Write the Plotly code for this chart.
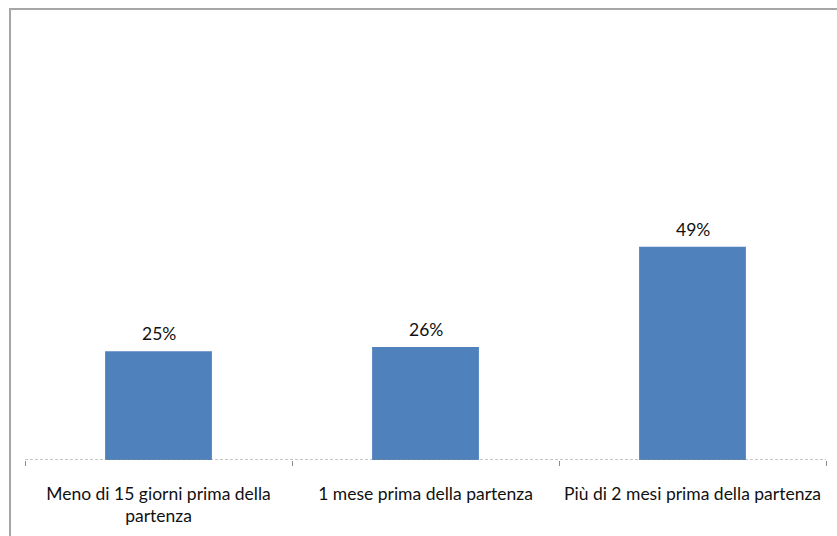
import plotly.graph_objects as go

# Quando prenotare: quota di risposte per anticipo di prenotazione
categorie = [
    "Meno di 15 giorni prima della<br>partenza",
    "1 mese prima della partenza",
    "Più di 2 mesi prima della partenza",
]
percentuali = [25, 26, 49]

FONT = "Lato, 'Open Sans', sans-serif"
BAR_COLOR = "#4F81BD"
TEXT_COLOR = "#111111"

fig = go.Figure(
    go.Bar(
        x=categorie,
        y=percentuali,
        marker=dict(color=BAR_COLOR, line=dict(width=0)),
        width=0.4,
        hoverinfo="skip",
    )
)

# Etichette dei valori sopra le barre
for cat, val in zip(categorie, percentuali):
    fig.add_annotation(
        x=cat, y=val, text=f"{val}%", showarrow=False,
        yanchor="bottom", yshift=5,
        font=dict(family=FONT, size=17.5, color=TEXT_COLOR),
    )

shapes = [
    # linea dell'asse orizzontale tratteggiata
    dict(type="line", xref="paper", yref="y", x0=0, x1=1, y0=0, y1=0,
         line=dict(color="#8C8C8C", width=1, dash="3px,2px")),
    # cornice grigia dell'area del grafico
    dict(type="rect", xref="paper", yref="paper",
         x0=-0.0187, x1=1.2, y0=1.0368, y1=-0.4,
         line=dict(color="#A6A6A6", width=2), fillcolor="rgba(0,0,0,0)"),
]

fig.update_layout(
    width=837, height=536,
    margin=dict(l=25, r=11, t=25, b=76),
    paper_bgcolor="white", plot_bgcolor="white",
    showlegend=False,
    shapes=shapes,
    font=dict(family=FONT, size=17.5, color=TEXT_COLOR),
    xaxis=dict(
        type="category",
        showline=False, showgrid=False, zeroline=False,
        ticks="outside", tickson="boundaries", ticklen=5,
        tickcolor="#8C8C8C", tickwidth=1,
        ticklabelstandoff=21,
        tickfont=dict(family=FONT, size=17.5, color=TEXT_COLOR),
        fixedrange=True,
    ),
    yaxis=dict(
        range=[0, 100], visible=False, showgrid=False, zeroline=False,
        fixedrange=True,
    ),
)

fig.write_html("out.html")
